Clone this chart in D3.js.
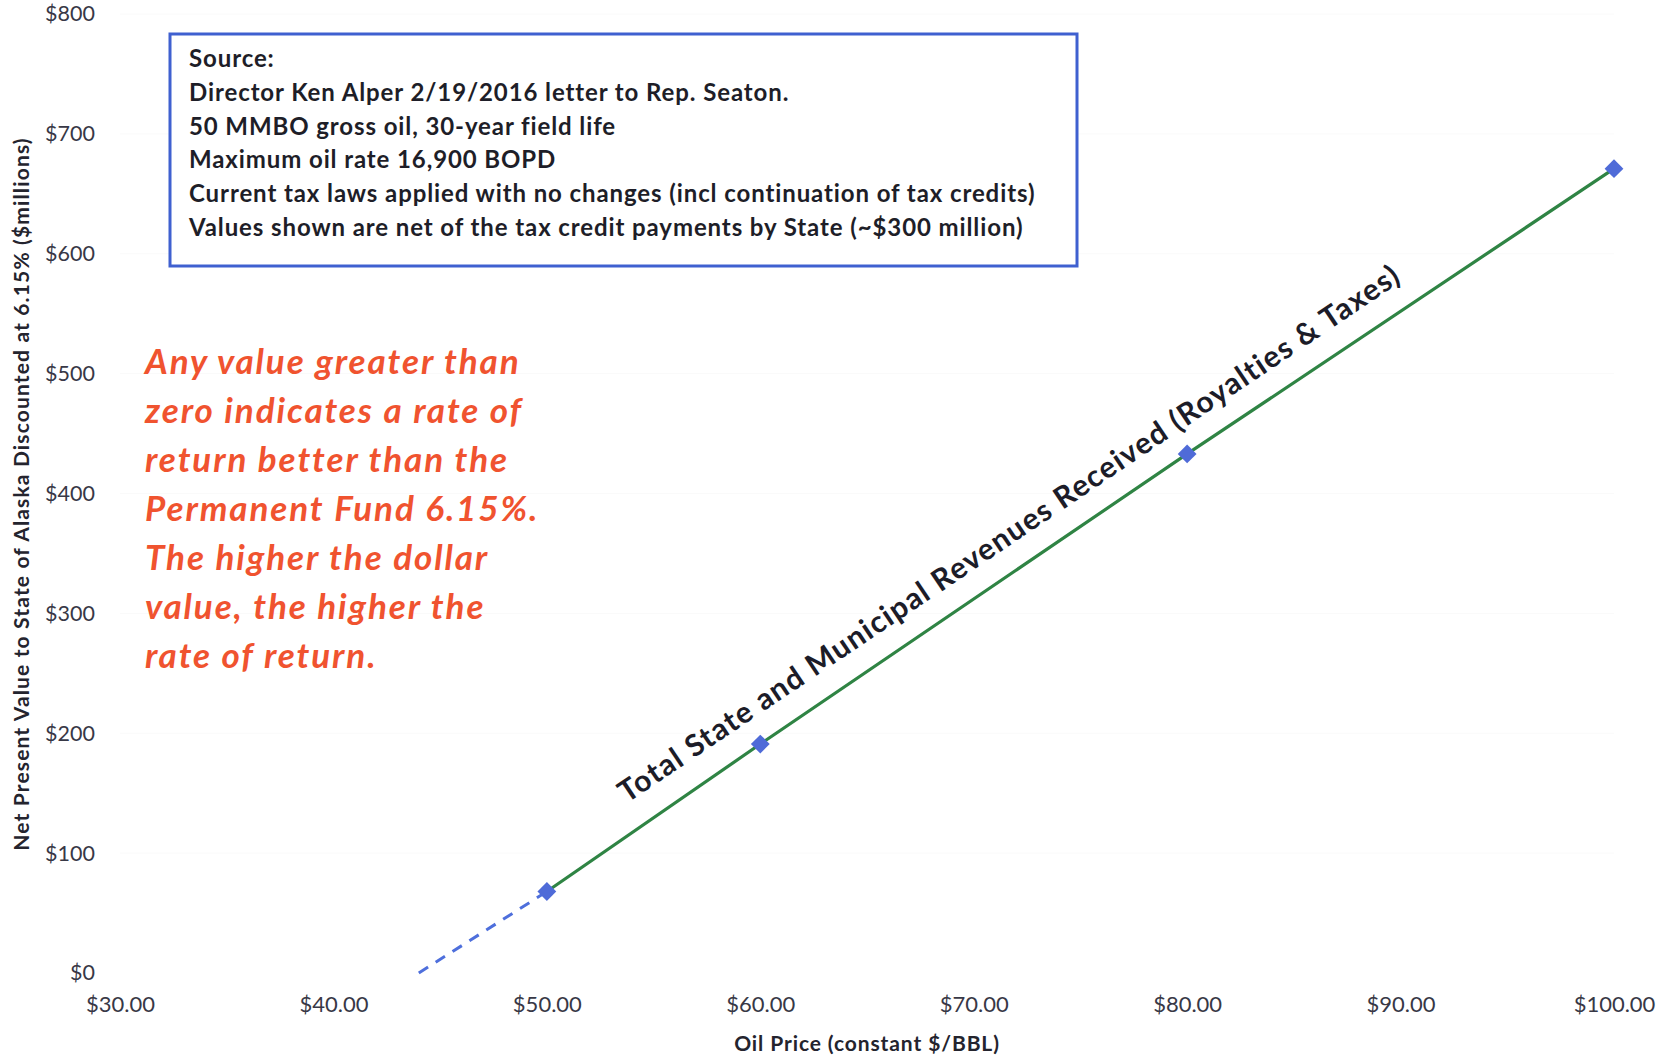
<!DOCTYPE html>
<html>
<head>
<meta charset="utf-8">
<script src="https://cdn.jsdelivr.net/npm/d3@7"></script>
<style>
  html, body { margin: 0; padding: 0; background: #fff; }
  svg { display: block; }
  text { font-family: Lato, "Open Sans", "Liberation Sans", sans-serif; }
</style>
</head>
<body>
<svg id="chart" width="1667" height="1062"></svg>
<script>
// Oil price scenarios ($/BBL) and state NPV at 6.15% discount ($ millions)
const oilPrice = [50, 60, 80, 100];
const npv = [68, 191, 433, 671];

// Extrapolation back to the break-even price (NPV = 0)
const breakEvenPrice = [44, 50];
const breakEvenNpv = [0, 68];

const xTicks = [30, 40, 50, 60, 70, 80, 90, 100];
const yTicks = [0, 100, 200, 300, 400, 500, 600, 700, 800];

const seriesLabel = "Total State and Municipal Revenues Received (Royalties & Taxes)";
const sourceLines = [
  "Source:",
  "Director Ken Alper 2/19/2016 letter to Rep. Seaton.",
  "50 MMBO gross oil, 30-year field life",
  "Maximum oil rate 16,900 BOPD",
  "Current tax laws applied with no changes (incl continuation of tax credits)",
  "Values shown are net of the tax credit payments by State (~$300 million)"
];
const noteLines = [
  "Any value greater than",
  "zero indicates a rate of",
  "return better than the",
  "Permanent Fund 6.15%.",
  "The higher the dollar",
  "value, the higher the",
  "rate of return."
];
const xTitle = "Oil Price (constant $/BBL)";
const yTitle = "Net Present Value to State of Alaska Discounted at 6.15% ($millions)";

const svg = d3.select("#chart");
svg.append("rect").attr("width", 1667).attr("height", 1062).attr("fill", "#fff");

const x = d3.scaleLinear().domain([30, 100]).range([120, 1614]);
const y = d3.scaleLinear().domain([0, 800]).range([973, 14]);

// very faint horizontal gridlines
svg.append("g")
  .selectAll("line").data(yTicks.slice(1)).join("line")
  .attr("x1", x(30)).attr("x2", x(100))
  .attr("y1", d => y(d)).attr("y2", d => y(d))
  .attr("stroke", "#fafafa").attr("stroke-width", 1);

// y axis labels
const yAxis = svg.append("g")
  .attr("transform", "translate(95,0)")
  .call(d3.axisLeft(y).tickValues(yTicks).tickSize(0).tickPadding(0).tickFormat(d => "$" + d));
yAxis.select(".domain").remove();
yAxis.selectAll("text")
  .attr("font-size", 21.5).attr("fill", "#383846")
  .attr("font-family", "Lato, 'Open Sans', sans-serif");

// x axis labels
const xAxis = svg.append("g")
  .attr("transform", "translate(0,996)")
  .call(d3.axisBottom(x).tickValues(xTicks).tickSize(0).tickPadding(0).tickFormat(d => "$" + d.toFixed(2)));
xAxis.select(".domain").remove();
xAxis.selectAll("text")
  .attr("font-size", 22).attr("fill", "#383846")
  .attr("font-family", "Lato, 'Open Sans', sans-serif");

// axis titles
svg.append("text")
  .attr("x", x(65)).attr("y", 1051)
  .attr("text-anchor", "middle")
  .attr("font-size", 21).attr("font-weight", 700).attr("fill", "#24242e")
  .attr("letter-spacing", 0.9)
  .text(xTitle);

svg.append("text")
  .attr("transform", "translate(29,494) rotate(-90)")
  .attr("text-anchor", "middle")
  .attr("font-size", 21).attr("font-weight", 700).attr("fill", "#24242e")
  .attr("letter-spacing", 1.15)
  .text(yTitle);

// dashed extrapolation to break-even
const line = d3.line().x(d => x(d[0])).y(d => y(d[1]));
svg.append("path")
  .datum(d3.zip(breakEvenPrice, breakEvenNpv))
  .attr("d", line)
  .attr("fill", "none").attr("stroke", "#4e6fdc")
  .attr("stroke-width", 3).attr("stroke-dasharray", "11,9");

// revenue series
const pts = d3.zip(oilPrice, npv);
svg.append("path")
  .datum(pts)
  .attr("d", line)
  .attr("fill", "none").attr("stroke", "#2f8444").attr("stroke-width", 3.2);

svg.append("g")
  .selectAll("path").data(pts).join("path")
  .attr("d", d3.symbol().type(d3.symbolDiamond2).size(225))
  .attr("transform", d => `translate(${x(d[0])},${y(d[1])})`)
  .attr("fill", "#4f6bd8");

// series label drawn along the line
const angle = Math.atan2(y(npv[3]) - y(npv[1]), x(oilPrice[3]) - x(oilPrice[1])) * 180 / Math.PI;
const midX = 1015, midY = 542;
svg.append("text")
  .attr("transform", `translate(${midX},${midY}) rotate(${angle})`)
  .attr("text-anchor", "middle")
  .attr("font-size", 30).attr("font-weight", 700).attr("fill", "#1c1c28")
  .attr("letter-spacing", 1.3)
  .text(seriesLabel);

// source box
svg.append("rect")
  .attr("x", 170).attr("y", 34).attr("width", 907).attr("height", 232)
  .attr("fill", "#fff").attr("stroke", "#3f60d0").attr("stroke-width", 3);
svg.append("g")
  .selectAll("text").data(sourceLines).join("text")
  .attr("x", 189).attr("y", (d, i) => 67 + i * 33.8)
  .attr("font-size", 24).attr("font-weight", 700).attr("fill", "#1e1e28")
  .attr("letter-spacing", 0.9)
  .text(d => d);

// note in red italics
svg.append("g")
  .selectAll("text").data(noteLines).join("text")
  .attr("x", 145).attr("y", (d, i) => 374 + i * 49)
  .attr("font-size", 35).attr("font-weight", 700).attr("font-style", "italic")
  .attr("fill", "#f0532f")
  .attr("letter-spacing", 1.9)
  .text(d => d);
</script>
</body>
</html>
